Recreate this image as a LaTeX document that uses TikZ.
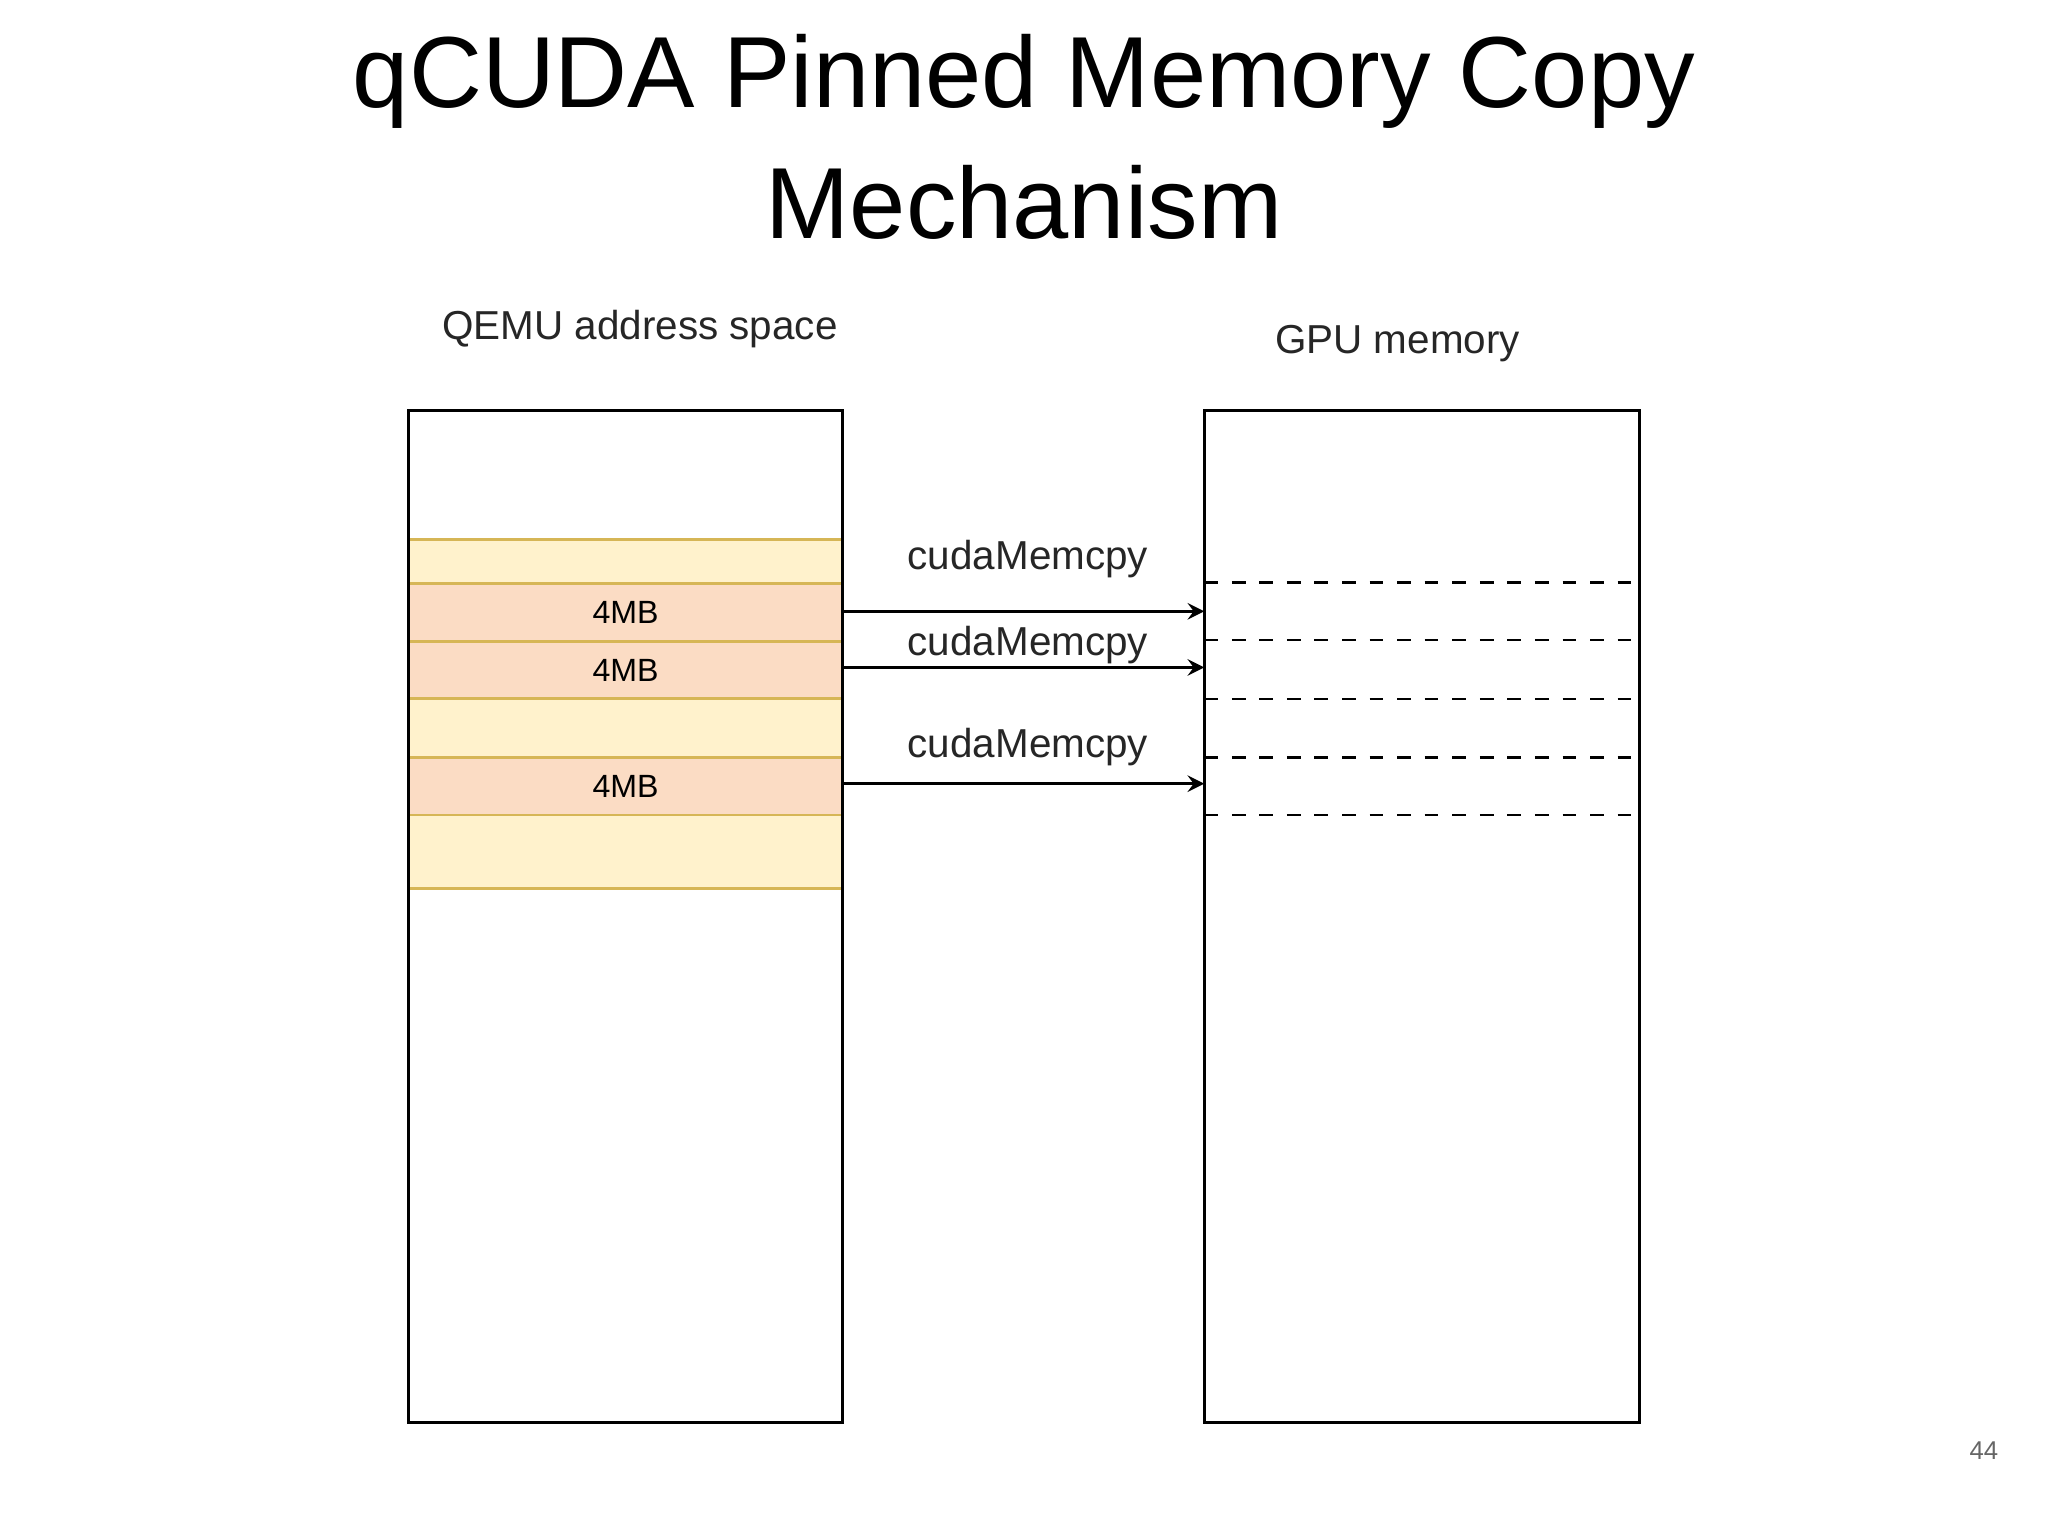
\documentclass[tikz,border=0pt]{standalone}
\usepackage{fontspec}
\setmainfont{Liberation Sans}
\definecolor{ylw}{HTML}{FFF2CC}
\definecolor{org}{HTML}{FBDCC4}
\definecolor{gold}{HTML}{D6B656}
\begin{document}
\begin{tikzpicture}[x=0.01cm,y=-0.01cm,
  lbl/.style={font=\fontsize{8.8pt}{10pt}\selectfont, text=black!85},
  arr/.style={-stealth, line width=0.6pt},
  dsh/.style={dashed, line width=0.5pt}]
\useasboundingbox (0,0) rectangle (1568,1176);
\node[font=\fontsize{22pt}{26pt}\selectfont] (t1) at (784,62) {qCUDA Pinned Memory Copy};
\node[font=\fontsize{22pt}{26pt}\selectfont] (t2) at (784,155) {Mechanism};
\node[lbl] (qemu) at (490,252) {QEMU address space};
\node[lbl] (gpu) at (1070,263) {GPU memory};
% yellow region
\fill[ylw] (313,413) rectangle (645,680);
\fill[org] (313,447) rectangle (645,535);
\fill[org] (313,580) rectangle (645,624);
\foreach \y in {413,447,491,535,580,624,680} \draw[gold, line width=0.6pt] (313,\y) -- (645,\y);
\node[font=\fontsize{7pt}{8pt}\selectfont] (m1) at (479,469) {4MB};
\node[font=\fontsize{7pt}{8pt}\selectfont] (m2) at (479,513) {4MB};
\node[font=\fontsize{7pt}{8pt}\selectfont] (m3) at (479,602) {4MB};
\draw[line width=0.7pt] (313,314) rectangle (645,1089);
\draw[line width=0.7pt] (922,314) rectangle (1255,1089);
\foreach \y in {446,490,535,580,624} \draw[dsh] (922,\y) -- (1255,\y);
\draw[dsh] (1255,446) -- (1255,624);
\coordinate (s1) at (645,468); \coordinate (e1) at (922,468);
\coordinate (s2) at (645,511); \coordinate (e2) at (922,511);
\coordinate (s3) at (645,600); \coordinate (e3) at (922,600);
\draw[arr] (s1) -- (e1);
\draw[arr] (s2) -- (e2);
\draw[arr] (s3) -- (e3);
\node[lbl] (c1) at (787,428) {cudaMemcpy};
\node[lbl] (c2) at (787,494) {cudaMemcpy};
\node[lbl] (c3) at (787,572) {cudaMemcpy};
\node[font=\fontsize{5.6pt}{7pt}\selectfont, text=black!60] (pg) at (1519,1111) {44};
\end{tikzpicture}
\end{document}
